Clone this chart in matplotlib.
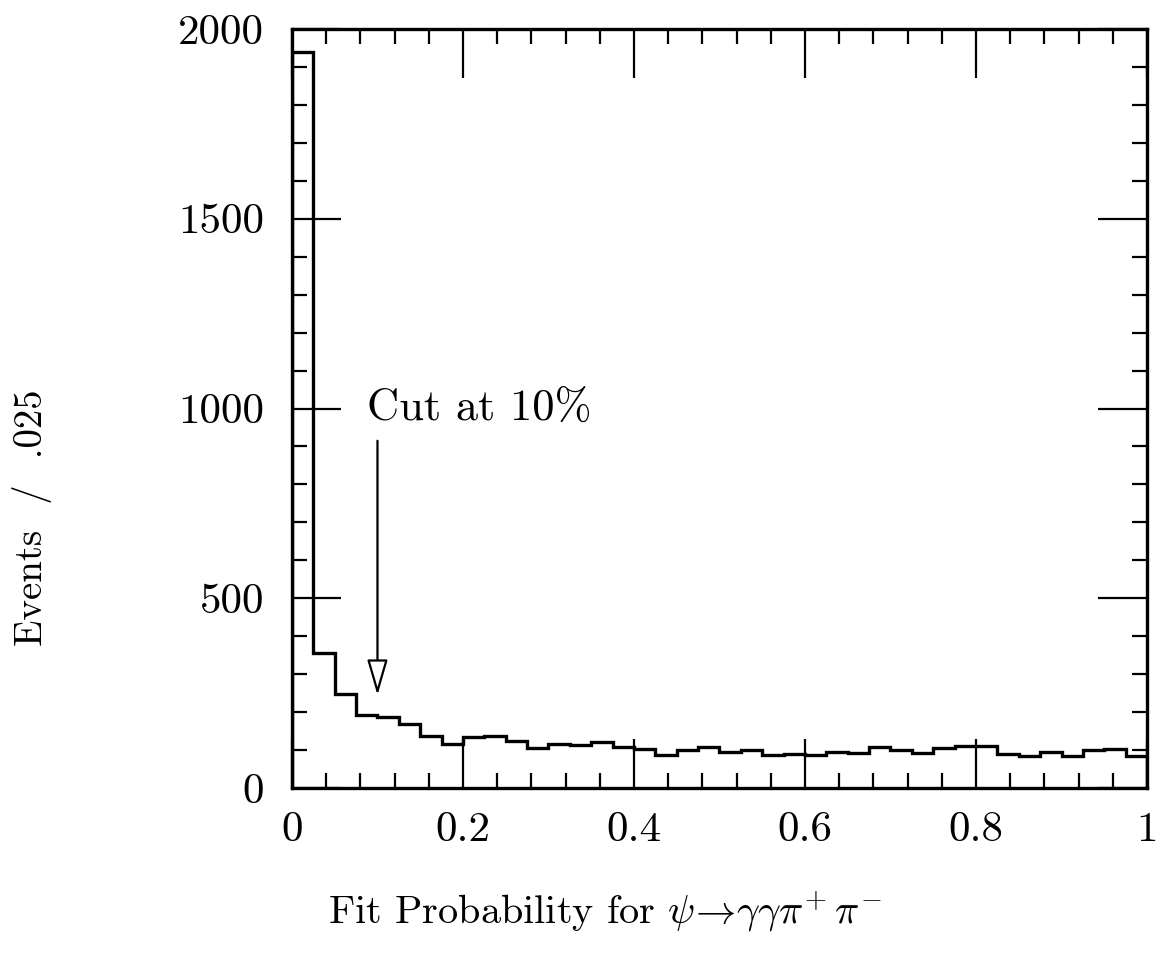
import numpy as np
import matplotlib
matplotlib.use("Agg")
import matplotlib.pyplot as plt
from matplotlib.ticker import MultipleLocator

plt.rcParams['font.family'] = ['cmr10', 'DejaVu Serif']
plt.rcParams['mathtext.fontset'] = 'cm'
plt.rcParams['axes.formatter.use_mathtext'] = True

# ---- data ----
bin_width = 0.025
counts = [1940, 357, 248, 192, 186, 168, 137, 117, 134, 138,
          123, 106, 115, 113, 121, 107, 104, 88, 100, 107,
          95, 99, 88, 89, 86, 95, 92, 107, 99, 91,
          106, 112, 112, 90, 84, 94, 84, 100, 103, 84]
x_ticks = [0, 0.2, 0.4, 0.6, 0.8, 1.0]
x_tick_labels = ["0", "0.2", "0.4", "0.6", "0.8", "1"]
y_ticks = [0, 500, 1000, 1500, 2000]
y_tick_labels = ["0", "500", "1000", "1500", "2000"]
cut_value = 0.1
arrow_top = 915
arrow_tip = 245
cut_text = "Cut at 10%"
x_label = r"Fit Probability for $\psi\!\rightarrow\!\gamma\gamma\pi^{\!+}\pi^{\!-}$"
y_label = "Events  /  .025"

edges = np.arange(len(counts) + 1) * bin_width

fig = plt.figure(figsize=(11.6, 9.67), dpi=100)
ax = fig.add_axes([0.2517, 0.1851, 0.7371, 0.7849])

ax.stairs(counts, edges, color='black', linewidth=2.4)

ax.set_xlim(0, 1)
ax.set_ylim(0, 2000)

ax.set_xticks(x_ticks)
ax.set_xticklabels(x_tick_labels)
ax.set_yticks(y_ticks)
ax.set_yticklabels(y_tick_labels)
ax.xaxis.set_minor_locator(MultipleLocator(0.04))
ax.yaxis.set_minor_locator(MultipleLocator(100))

ax.tick_params(which='both', direction='in', top=True, right=True,
               color='black', width=1.6)
ax.tick_params(which='major', length=35)
ax.tick_params(which='minor', length=11)
ax.tick_params(axis='x', which='major', labelsize=31, pad=17)
ax.tick_params(axis='y', which='major', labelsize=31, pad=20)

for sp in ax.spines.values():
    sp.set_linewidth(2.4)
    sp.set_color('black')

ax.annotate("", xy=(cut_value, arrow_tip), xytext=(cut_value, arrow_top),
            arrowprops=dict(arrowstyle='-|>,head_length=1.1,head_width=0.32',
                            mutation_scale=20, fc='white', ec='black',
                            lw=1.6, shrinkA=0, shrinkB=0))
ax.text(0.088, 1000, cut_text, fontsize=32, ha='left', va='center')

fig.text(0.028, 0.465, y_label, rotation=90, fontsize=28,
         ha='center', va='center')
fig.text(0.522, 0.057, x_label, fontsize=29, ha='center', va='center')

fig.savefig("out.png", dpi=100, facecolor='white')
